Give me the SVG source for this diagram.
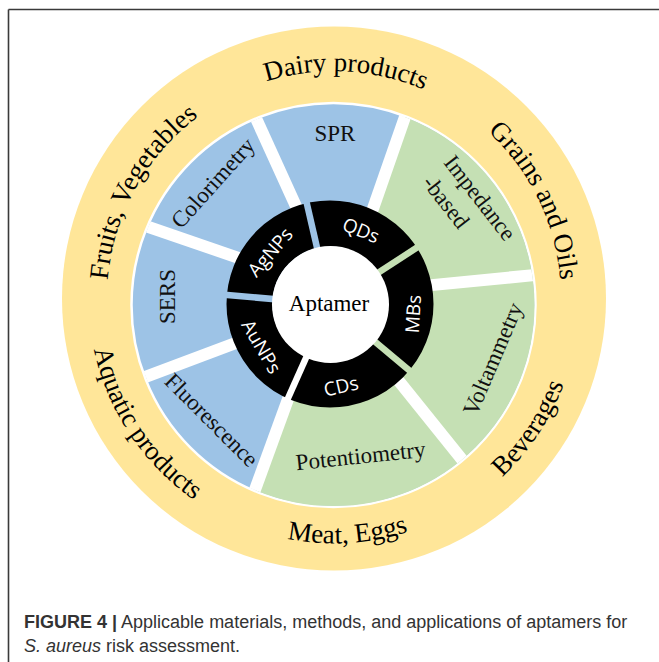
<svg xmlns="http://www.w3.org/2000/svg" width="659" height="662" viewBox="0 0 659 662">
  <style>
    .food { font-family: "Liberation Serif", "Times New Roman", serif; font-size: 27px; fill: #000; }
    .method { font-family: "Liberation Serif", "Times New Roman", serif; font-size: 23px; fill: #111; text-anchor: middle; dominant-baseline: central; }
    .mat { font-family: "Open Sans", "DejaVu Sans", sans-serif; font-size: 19px; fill: #fff; text-anchor: middle; dominant-baseline: central; }
    .apt { font-family: "Liberation Serif", "Times New Roman", serif; font-size: 23px; fill: #000; text-anchor: middle; dominant-baseline: central; }
    .cap { font-family: "Liberation Sans", Arial, sans-serif; font-size: 18px; fill: #333; }
    .sep { stroke: #fff; stroke-width: 12; stroke-linecap: butt; fill: none; }
    .slit { stroke-width: 6.5; fill: none; }
    .blue { fill: #9DC3E6; }
    .green { fill: #C5E0B4; }
  </style>
  <defs>
    <clipPath id="methodsClip">
      <circle cx="333.5" cy="305" r="201"/>
    </clipPath>
    <path id="pDairy" d="M 109.2 266.9 A 227 227 0 0 1 560.9 290.6"/>
    <path id="pFruits" d="M 207.1 486.7 A 227 227 0 0 1 426.3 91.1"/>
    <path id="pGrains" d="M 252.6 86.6 A 227 227 0 0 1 450.9 493.1"/>
    <path id="pBev" d="M 216.7 513.6 A 245 245 0 0 0 486.9 107.0"/>
    <path id="pMeat" d="M 91.6 333.9 A 245 245 0 0 0 578.9 305.8"/>
    <path id="pAqua" d="M 181.1 107.0 A 245 245 0 0 0 451.3 513.6"/>
  </defs>

  <g id="frame" stroke="#3a3a3a" stroke-width="1.6" fill="none">
    <line x1="8.5" y1="9.5" x2="659" y2="9.5"/>
    <line x1="8.5" y1="9.5" x2="8.5" y2="662"/>
  </g>

  <g id="food-ring">
    <circle cx="334" cy="298.5" r="272" fill="#FFE699"/>
    <g id="food-dairy"><text class="food"><textPath href="#pDairy" startOffset="50%" text-anchor="middle">Dairy products</textPath></text></g>
    <g id="food-fruits"><text class="food"><textPath href="#pFruits" startOffset="50%" text-anchor="middle">Fruits, Vegetables</textPath></text></g>
    <g id="food-grains"><text class="food"><textPath href="#pGrains" startOffset="50%" text-anchor="middle">Grains and Oils</textPath></text></g>
    <g id="food-beverages"><text class="food"><textPath href="#pBev" startOffset="50%" text-anchor="middle">Beverages</textPath></text></g>
    <g id="food-meat"><text class="food"><textPath href="#pMeat" startOffset="50%" text-anchor="middle">Meat, Eggs</textPath></text></g>
    <g id="food-aquatic"><text class="food"><textPath href="#pAqua" startOffset="50%" text-anchor="middle">Aquatic products</textPath></text></g>
  </g>

  <g id="methods">
    <circle cx="333.5" cy="305" r="202" class="blue" stroke="#fff" stroke-width="2.5"/>
    <polygon class="green" clip-path="url(#methodsClip)" points="432,40 700,40 700,700 215,600 323,304 340,304"/>
  </g>

  <g id="connectors" clip-path="url(#methodsClip)">
    <line class="sep" x1="247.8" y1="100.3" x2="297" y2="208.5"/>
    <line class="sep" x1="412" y1="96.8" x2="372" y2="211.5"/>
    <line class="sep" x1="550" y1="273.5" x2="429" y2="285.4"/>
    <line class="sep" x1="469.4" y1="468.7" x2="397" y2="378.7"/>
    <line class="sep" x1="250.9" y1="501" x2="303" y2="358"/>
    <line class="sep" x1="131" y1="382.3" x2="236.7" y2="342.6"/>
    <line class="sep" x1="131.8" y1="221.2" x2="239.8" y2="258.3"/>
  </g>

  <g id="method-spr"><text class="method" x="335" y="133.5">SPR</text></g>
  <g id="method-colorimetry" transform="translate(213,183) rotate(-48)"><text class="method" x="0" y="0">Colorimetry</text></g>
  <g id="method-sers" transform="translate(167.5,296.5) rotate(-90)"><text class="method" x="0" y="0">SERS</text></g>
  <g id="method-fluorescence" transform="translate(211.5,420) rotate(45)"><text class="method" x="0" y="0">Fluorescence</text></g>
  <g id="method-potentiometry" transform="translate(360.5,456) rotate(-6)"><text class="method" x="0" y="0">Potentiometry</text></g>
  <g id="method-voltammetry" transform="translate(493,359) rotate(-67)"><text class="method" x="0" y="0">Voltammetry</text></g>
  <g id="method-impedance" transform="translate(480,198) rotate(52)">
    <text class="method" x="0" y="0">Impedance</text>
    <text class="method" x="-17.8" y="29.3">-based</text>
  </g>

  <g id="materials">
    <circle cx="330" cy="304" r="80.5" fill="none" stroke="#000" stroke-width="46"/>
    <line class="slit" stroke="#9DC3E6" x1="330" y1="304" x2="306.2" y2="200.7"/>
    <line class="slit" stroke="#C5E0B4" x1="330" y1="304" x2="418.9" y2="246.3"/>
    <line class="slit" stroke="#C5E0B4" x1="330" y1="304" x2="411.2" y2="372.1"/>
    <line class="slit" stroke="#ffffff" x1="330" y1="304" x2="286.9" y2="400.8"/>
    <line class="slit" stroke="#9DC3E6" x1="330" y1="304" x2="224.4" y2="294.8"/>
    <g id="mat-qds" transform="translate(361,230) rotate(22)"><text class="mat" x="0" y="0">QDs</text></g>
    <g id="mat-mbs" transform="translate(413,314) rotate(-86.5)"><text class="mat" x="0" y="0">MBs</text></g>
    <g id="mat-cds" transform="translate(341,386) rotate(-13)"><text class="mat" x="0" y="0">CDs</text></g>
    <g id="mat-aunps" transform="translate(261.5,346.5) rotate(59.5)"><text class="mat" x="0" y="0">AuNPs</text></g>
    <g id="mat-agnps" transform="translate(270,252) rotate(-49)"><text class="mat" x="0" y="0">AgNPs</text></g>
  </g>

  <g id="center">
    <circle cx="330.5" cy="304.5" r="58.5" fill="#fff"/>
    <text class="apt" x="329" y="303">Aptamer</text>
  </g>

  <g id="caption">
    <text class="cap" x="24" y="628"><tspan font-weight="bold">FIGURE 4 |</tspan> Applicable materials, methods, and applications of aptamers for</text>
    <text class="cap" x="24" y="652"><tspan font-style="italic">S. aureus</tspan> risk assessment.</text>
  </g>
</svg>
